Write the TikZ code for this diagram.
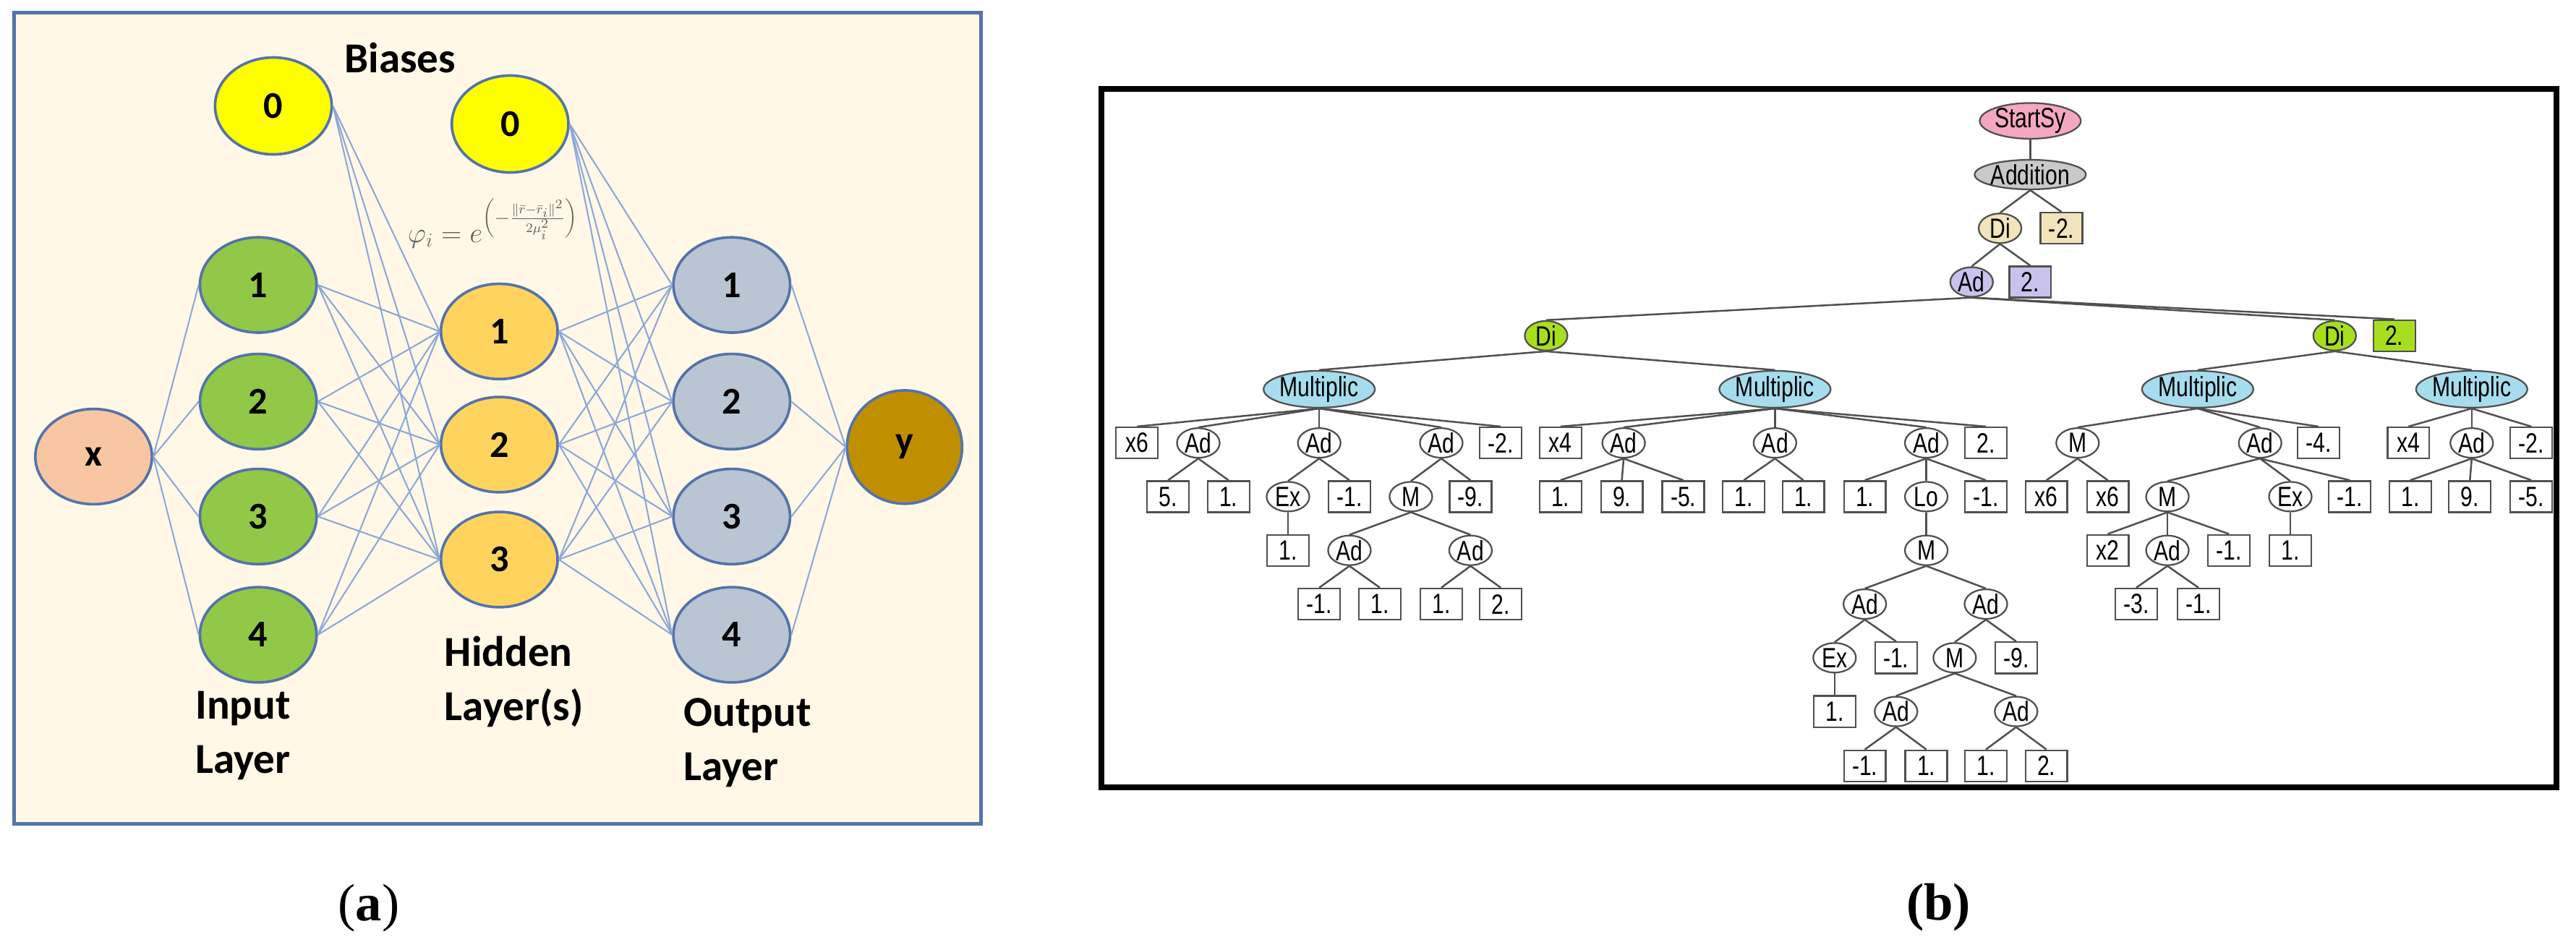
\documentclass[tikz,border=0pt]{standalone}
\usepackage{fontspec}
\usepackage{xcolor}
\usepackage{tikz}
\usetikzlibrary{shapes.geometric}
\newfontfamily\annfont{Carlito}
\newfontfamily\treefont[FakeStretch=0.78]{Liberation Sans}
\newfontfamily\capfont{Liberation Serif}
\definecolor{panelcream}{HTML}{FFF8E6}
\definecolor{panelblue}{HTML}{5473AA}
\definecolor{netline}{HTML}{8CA6D8}
\definecolor{biasyellow}{HTML}{FFFF00}
\definecolor{inputgreen}{HTML}{92C847}
\definecolor{hiddengold}{HTML}{FFD45E}
\definecolor{outputgray}{HTML}{B9C5D3}
\definecolor{xpeach}{HTML}{F8C6A2}
\definecolor{ybrown}{HTML}{BF8F00}
\definecolor{treeline}{HTML}{505050}
\definecolor{startpink}{HTML}{F4A7C1}
\definecolor{addgray}{HTML}{C9C9C9}
\definecolor{ditan}{HTML}{F3E4BC}
\definecolor{adpurple}{HTML}{C8C2EC}
\definecolor{digreen}{HTML}{A7DF1F}
\definecolor{mulblue}{HTML}{A5DDEE}
\tikzset{
  neuron/.style={ellipse, draw=panelblue, line width=1.6pt, minimum width=71pt,
    minimum height=58pt, inner sep=0pt, font=\annfont\bfseries\fontsize{23}{23}\selectfont},
  layerlabel/.style={anchor=west, align=left, inner sep=0pt,
    font=\annfont\bfseries\fontsize{26}{33}\selectfont},
  link/.style={draw=netline, line width=0.9pt},
  tnode/.style={ellipse, draw=treeline, line width=1pt, fill=white, minimum width=26pt,
    minimum height=18pt, inner sep=0pt, font=\treefont\fontsize{17}{17}\selectfont},
  tleaf/.style={rectangle, draw=treeline, line width=1pt, fill=white, minimum width=25.5pt,
    minimum height=19pt, inner sep=0pt, font=\treefont\fontsize{17}{17}\selectfont},
  tedge/.style={draw=treeline, line width=1.1pt},
  caption/.style={font=\capfont\fontsize{32}{32}\selectfont}
}
\begin{document}
\begin{tikzpicture}[x=1pt, y=-1pt]
  \useasboundingbox (0,0) rectangle (1568,578);
  % (a) network
  \draw[fill=panelcream, draw=panelblue, line width=2.2pt] (8.5,7.8) rectangle (597.3,501.5);
  \node[font=\annfont\bfseries\fontsize{26}{26}\selectfont] (biases) at (243.5,35) {Biases};
  \node[neuron, fill=biasyellow, minimum height=59pt] (biasl) at (166.4,64.5) {0};
  \node[neuron, fill=biasyellow, minimum height=59pt] (biasr) at (310.5,75.5) {0};
  \node[neuron, fill=xpeach] (xin) at (57,278) {x};
  \foreach \i/\y in {1/173.5, 2/244.5, 3/314.5, 4/386.5} {
    \node[neuron, fill=inputgreen] (in\i) at (157.2,\y) {\i};
    \node[neuron, fill=outputgray] (out\i) at (445.4,\y) {\i};
  }
  \foreach \j/\y in {1/201.8, 2/270.7, 3/340.7}
    \node[neuron, fill=hiddengold] (hid\j) at (303.9,\y) {\j};
  \node[neuron, fill=ybrown, minimum width=70pt, minimum height=69pt] (yout) at (550.6,272.2) {y};
  \foreach \i in {1,...,4} {
    \draw[link] (xin.east) -- (in\i.west);
    \draw[link] (biasr.east) -- (out\i.west);
    \draw[link] (out\i.east) -- (yout.west);
    \foreach \j in {1,2,3} {
      \draw[link] (in\i.east) -- (hid\j.west);
      \draw[link] (hid\j.east) -- (out\i.west);
    }
  }
  \foreach \j in {1,2,3}
    \draw[link] (biasl.east) -- (hid\j.west);
  \node[text=gray!75!black, font=\fontsize{17}{19}\selectfont] (rbf) at (300,136)
    {$\varphi_i = e^{\left(-\frac{\|\bar{r}-\bar{r}_i\|^2}{2\mu_i^2}\right)}$};
  \node[layerlabel] (inlabel) at (118.8,448) {Input\\Layer};
  \node[layerlabel] (hidlabel) at (270.5,415) {Hidden\\Layer(s)};
  \node[layerlabel] (outlabel) at (416,452) {Output\\Layer};
  \node[caption] (capa) at (224.5,553) {(\textbf{a})};
  % (b) expression tree
  \draw[line width=3.5pt] (670.3,54) rectangle (1556,479.4);
  \node[tnode, minimum width=60pt, fill=startpink] (start) at (1235.8,73.6) {StartSy};
  \node[tnode, minimum width=60pt, fill=addgray] (addn) at (1235.8,106.3) {Addition};
  \node[tnode, fill=ditan] (di0) at (1217.4,139) {Di};
  \node[tleaf, fill=ditan] (k0) at (1254.8,139) {-2.};
  \node[tnode, fill=adpurple] (ad0) at (1200.1,171.7) {Ad};
  \node[tleaf, fill=adpurple] (k1) at (1235.8,171.7) {2.};
  \node[tnode, fill=digreen] (dil) at (941.1,204.4) {Di};
  \node[tnode, fill=digreen] (dir) at (1421.1,204.4) {Di};
  \node[tleaf, fill=digreen] (k2) at (1457.4,204.4) {2.};
  \foreach \n/\x in {mu1/803.0, mu2/1080.4, mu3/1337.7, mu4/1504.5}
    \node[tnode, minimum width=60pt, fill=mulblue] (\n) at (\x,237) {Multiplic};
  \foreach \n/\x/\t/\s in {a1/692.0/x6/tleaf, a2/729.4/Ad/tnode, a3/803.0/Ad/tnode,
      a4/877.3/Ad/tnode, a5/913.5/-2./tleaf, a6/949.8/x4/tleaf, a7/988.3/Ad/tnode,
      a8/1080.4/Ad/tnode, a9/1172.5/Ad/tnode, a10/1208.8/2./tleaf, a11/1264.6/M/tnode,
      a12/1375.7/Ad/tnode, a13/1411.3/-4./tleaf, a14/1466.0/x4/tleaf, a15/1504.5/Ad/tnode,
      a16/1540.8/-2./tleaf}
    \node[\s] (\n) at (\x,269.7) {\t};
  \foreach \n/\x/\t/\s in {b1/711.0/5./tleaf, b2/747.8/1./tleaf, b3/784.0/Ex/tnode,
      b4/821.4/-1./tleaf, b5/858.8/M/tnode, b6/895.1/-9./tleaf, b7/949.8/1./tleaf,
      b8/987.2/9./tleaf, b9/1024.6/-5./tleaf, b10/1061.4/1./tleaf, b11/1097.7/1./tleaf,
      b12/1135.1/1./tleaf, b13/1172.5/Lo/tnode, b14/1208.8/-1./tleaf, b15/1245.6/x6/tleaf,
      b16/1283.0/x6/tleaf, b17/1319.3/M/tnode, b18/1394.1/Ex/tnode, b19/1430.3/-1./tleaf,
      b20/1467.1/1./tleaf, b21/1503.4/9./tleaf, b22/1540.8/-5./tleaf}
    \node[\s] (\n) at (\x,302.4) {\t};
  \foreach \n/\x/\t/\s in {c1/784.0/1./tleaf, c2/821.4/Ad/tnode, c3/895.1/Ad/tnode,
      c4/1172.5/M/tnode, c5/1283.0/x2/tleaf, c6/1319.3/Ad/tnode, c7/1356.7/-1./tleaf,
      c8/1394.1/1./tleaf}
    \node[\s] (\n) at (\x,335.1) {\t};
  \foreach \n/\x/\t/\s in {d1/803.0/-1./tleaf, d2/839.9/1./tleaf, d3/877.3/1./tleaf,
      d4/913.5/2./tleaf, d5/1135.1/Ad/tnode, d6/1208.8/Ad/tnode, d7/1300.3/-3./tleaf,
      d8/1338.2/-1./tleaf}
    \node[\s] (\n) at (\x,367.8) {\t};
  \foreach \n/\x/\t/\s in {e1/1116.7/Ex/tnode, e2/1154.1/-1./tleaf, e3/1189.8/M/tnode,
      e4/1227.2/-9./tleaf}
    \node[\s] (\n) at (\x,400.5) {\t};
  \foreach \n/\x/\t/\s in {f1/1116.7/1./tleaf, f2/1154.1/Ad/tnode, f3/1227.2/Ad/tnode}
    \node[\s] (\n) at (\x,433.2) {\t};
  \foreach \n/\x/\t in {g1/1135.1/-1., g2/1172.5/1., g3/1208.8/1., g4/1245.6/2.}
    \node[tleaf] (\n) at (\x,466.3) {\t};
  \foreach \p/\c in {start/addn, addn/di0, addn/k0, di0/ad0, di0/k1, ad0/dil, ad0/dir,
      ad0/k2, dil/mu1, dil/mu2, dir/mu3, dir/mu4,
      mu1/a1, mu1/a2, mu1/a3, mu1/a4, mu1/a5, mu2/a6, mu2/a7, mu2/a8, mu2/a9, mu2/a10,
      mu3/a11, mu3/a12, mu3/a13, mu4/a14, mu4/a15, mu4/a16,
      a2/b1, a2/b2, a3/b3, a3/b4, a4/b5, a4/b6, a7/b7, a7/b8, a7/b9, a8/b10, a8/b11,
      a9/b12, a9/b13, a9/b14, a11/b15, a11/b16, a12/b17, a12/b18, a12/b19,
      a15/b20, a15/b21, a15/b22,
      b3/c1, b5/c2, b5/c3, b13/c4, b17/c5, b17/c6, b17/c7, b18/c8,
      c2/d1, c2/d2, c3/d3, c3/d4, c4/d5, c4/d6, c6/d7, c6/d8,
      d5/e1, d5/e2, d6/e3, d6/e4, e1/f1, e3/f2, e3/f3, f2/g1, f2/g2, f3/g3, f3/g4}
    \draw[tedge] (\p.south) -- (\c.north);
  \node[caption] (capb) at (1180,552.5) {\textbf{(b)}};
\end{tikzpicture}
\end{document}
